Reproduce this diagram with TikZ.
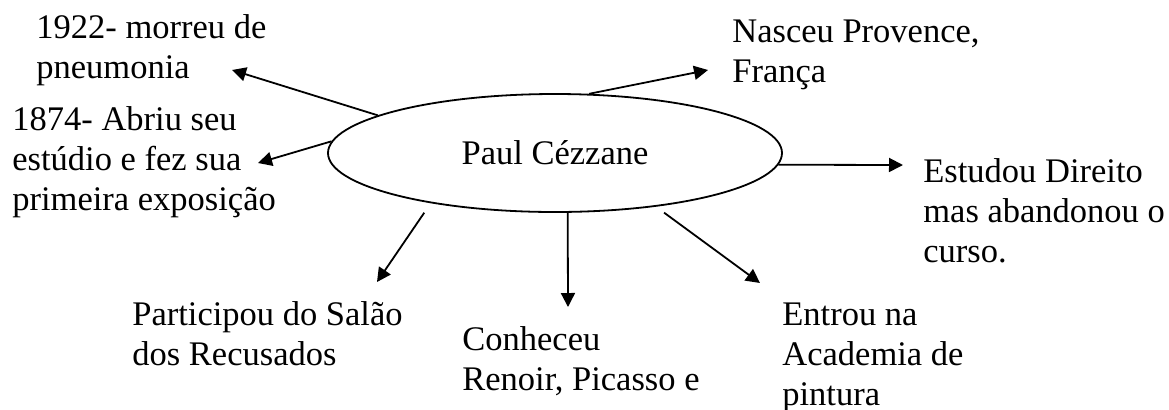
\documentclass[tikz,border=0pt]{standalone}
\usepackage{fontspec}
\setmainfont{Liberation Serif}
\usetikzlibrary{arrows.meta,shapes.geometric}

\begin{document}
\begin{tikzpicture}[x=0.5pt,y=-0.5pt,
      every node/.style={font=\fontsize{17.25}{20}\selectfont},
      lbl/.style={anchor=base west,align=left,inner sep=0pt},
      hub/.style={draw,ellipse,line width=0.9pt,minimum width=227pt,minimum height=59pt,inner sep=0pt},
      arr/.style={line width=0.9pt,-{Triangle[length=7pt,width=7pt]}}]
    \useasboundingbox (0,0) rectangle (1169,409);
    % Centro
    \node[hub] (pc) at (555,153) {Paul Cézzane};
    % Rotulos (base = ultima linha)
    \node[lbl] (morte)  at (36,78)   {1922- morreu de\\pneumonia};
    \node[lbl] (estud)  at (12,210)  {1874- Abriu seu\\estúdio e fez sua\\primeira exposição};
    \node[lbl] (nasc)   at (732,82)  {Nasceu Provence,\\França};
    \node[lbl] (dir)    at (923,262) {Estudou Direito\\mas abandonou o\\curso.};
    \node[lbl] (acad)   at (782,405) {Entrou na\\Academia de\\pintura};
    \node[lbl] (conh)   at (462,390) {Conheceu\\Renoir, Picasso e};
    \node[lbl] (salao)  at (132,365) {Participou do Salão\\dos Recusados};
    % Pontas das setas
    \coordinate (tmorte) at (232,70);
    \coordinate (testud) at (258,163);
    \coordinate (tnasc)  at (708,70);
    \coordinate (tdir)   at (903,165);
    \coordinate (tacad)  at (760,283);
    \coordinate (tconh)  at (568,307);
    \coordinate (tsalao) at (377,282);
    \foreach \a/\b in {pc.168/tmorte,pc.177/testud,pc.60/tnasc,pc.-3/tdir,pc.-78/tconh}{\draw[arr](\a)--(\b);}
    \draw[arr,shorten <=5.75pt](pc.202)--(tsalao);
    \draw[arr,shorten <=5pt](pc.-28)--(tacad);
  \end{tikzpicture}
\end{document}
